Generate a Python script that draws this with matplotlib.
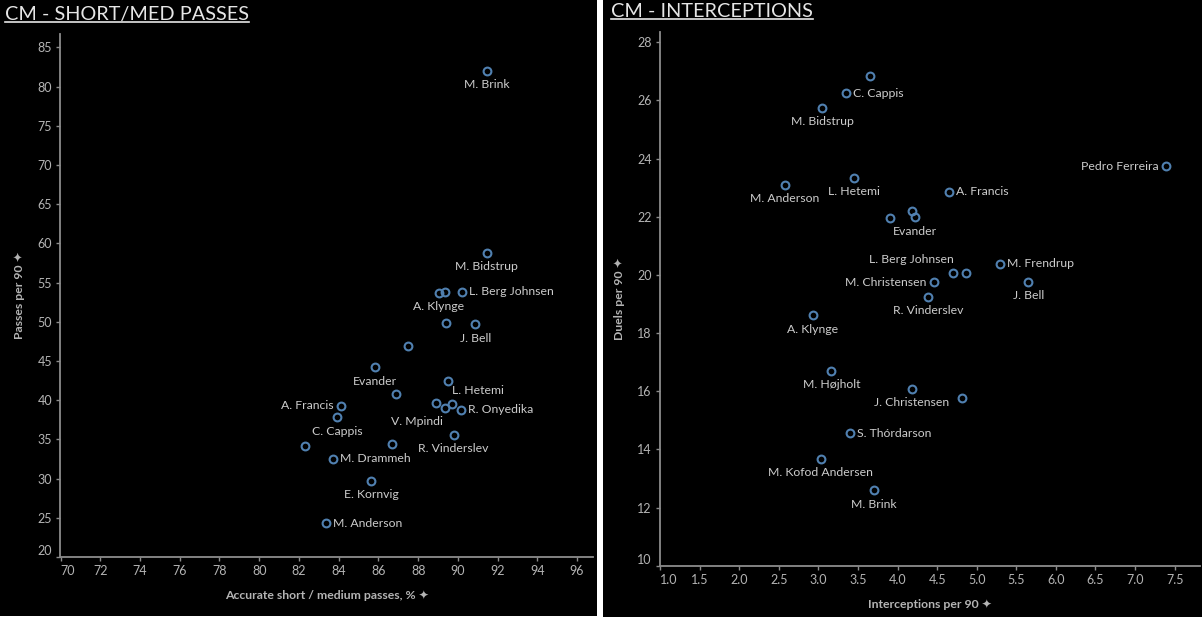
import matplotlib
matplotlib.use("Agg")
import matplotlib.pyplot as plt
from matplotlib.patches import Rectangle
from matplotlib.lines import Line2D

# ---- data: CM short/medium passes ----
pass_names = ["M. Brink", "M. Bidstrup", "A. Klynge", "", "L. Berg Johnsen", "", "J. Bell", "",
              "Evander", "L. Hetemi", "", "A. Francis", "C. Cappis", "V. Mpindi", "", "",
              "R. Onyedika", "R. Vinderslev", "", "", "M. Drammeh", "E. Kornvig", "M. Anderson"]
pass_acc = [91.44, 91.44, 89.04, 89.33, 90.23, 89.42, 90.87, 87.48,
            85.83, 89.5, 86.9, 84.1, 83.94, 88.92, 89.33, 89.7,
            90.17, 89.79, 82.3, 86.67, 83.7, 85.65, 83.38]
pass_p90 = [82.0, 58.8, 53.7, 53.8, 53.8, 49.8, 49.7, 46.95,
            44.2, 42.46, 40.8, 39.3, 37.8, 39.58, 39.0, 39.5,
            38.8, 35.6, 34.2, 34.36, 32.5, 29.75, 24.3]
pass_pos = ["b", "b", "b", "", "r", "", "b", "",
            "b", "br", "", "l", "b", "bl", "", "",
            "r", "b", "", "", "r", "b", "r"]
pass_xticks = [70, 72, 74, 76, 78, 80, 82, 84, 86, 88, 90, 92, 94, 96]
pass_yticks = [20, 25, 30, 35, 40, 45, 50, 55, 60, 65, 70, 75, 80, 85]

# ---- data: CM interceptions ----
int_names = ["", "C. Cappis", "M. Bidstrup", "Pedro Ferreira", "L. Hetemi", "M. Anderson",
             "A. Francis", "", "Evander", "", "M. Frendrup", "L. Berg Johnsen", "",
             "M. Christensen", "J. Bell", "R. Vinderslev", "A. Klynge", "M. Højholt",
             "J. Christensen", "", "S. Thórdarson", "M. Kofod Andersen", "M. Brink"]
int_p90 = [3.646, 3.345, 3.049, 7.39, 3.45, 2.573, 4.646, 4.18, 4.22, 3.91, 5.30, 4.70, 4.86,
           4.456, 5.65, 4.39, 2.927, 3.165, 4.18, 4.815, 3.40, 3.03, 3.70]
duels_p90 = [26.82, 26.24, 25.74, 23.74, 23.33, 23.09, 22.85, 22.2, 21.98, 21.97, 20.38, 20.05,
             20.05, 19.74, 19.76, 19.25, 18.61, 16.71, 16.09, 15.78, 14.56, 13.68, 12.6]
int_pos = ["", "r", "b", "l", "b", "b", "r", "", "b", "", "r", "al", "",
           "l", "b", "b", "b", "b", "b", "", "r", "b", "b"]
int_xticks = [1.0, 1.5, 2.0, 2.5, 3.0, 3.5, 4.0, 4.5, 5.0, 5.5, 6.0, 6.5, 7.0, 7.5]
int_yticks = [10, 12, 14, 16, 18, 20, 22, 24, 26, 28]

W, H = 1202, 618
BG = "black"
POINT = "#5080b0"
LABEL = "#cccccc"
TICK = "#b4b4b4"
AXIS = "#8c8c8c"
FONT = ["Lato", "DejaVu Sans"]
PIN = "\u2726"

plt.rcParams["font.family"] = FONT

# label placement: (dx px, dy px, ha, va)
PLACE = {
    "b": (0, -14, "center", "center"),
    "r": (7, 0, "left", "center"),
    "l": (-7, 0, "right", "center"),
    "br": (4, -10, "left", "center"),
    "bl": (-19, -18, "center", "center"),
    "al": (1, 14, "right", "center"),
}


def px_rect(x0, y0, x1, y1):
    """Pixel box (top-left origin) -> figure fraction rect."""
    return [x0 / W, 1 - y1 / H, (x1 - x0) / W, (y1 - y0) / H]


def draw_panel(ax, xs, ys, names, pos, xticks, yticks, xlim, ylim, xlabel, ylabel, xfmt):
    ax.set_facecolor(BG)
    ax.plot(xs, ys, linestyle="none", marker="o", markersize=5.6, mfc="none",
            mec=POINT, mew=1.5, zorder=3)
    for x, y, name, p in zip(xs, ys, names, pos):
        if not name:
            continue
        dx, dy, ha, va = PLACE[p]
        ax.annotate(name, (x, y), xytext=(dx, dy), textcoords="offset pixels",
                    ha=ha, va=va, fontsize=8.8, color=LABEL)

    ax.set_xlim(*xlim)
    ax.set_ylim(*ylim)
    for side in ("top", "right"):
        ax.spines[side].set_visible(False)
    for side in ("left", "bottom"):
        ax.spines[side].set_color(AXIS)
        ax.spines[side].set_linewidth(1.3)

    ax.set_xticks(xticks)
    ax.set_xticklabels([xfmt.format(t) for t in xticks])
    ax.set_yticks(yticks)
    ax.tick_params(axis="both", colors=AXIS, labelcolor=TICK, labelsize=9,
                   length=3, width=1, pad=3)
    ax.get_xticklabels()[0].set_ha("left")
    ax.get_yticklabels()[0].set_va("bottom")

    ax.set_xlabel(xlabel + " " + PIN, color=TICK, fontsize=8.8, fontweight="bold", labelpad=9)
    ax.set_ylabel(ylabel + " " + PIN, color=TICK, fontsize=8.8, fontweight="bold", labelpad=9)


fig = plt.figure(figsize=(W / 100, H / 100), dpi=100, facecolor="white")

# black panel backgrounds, behind the axes
fig.patches.append(Rectangle((0, 1 - 616 / H), 597 / W, 616 / H, transform=fig.transFigure,
                             facecolor=BG, edgecolor="none", zorder=-10))
fig.patches.append(Rectangle((603 / W, 1 - 617 / H), 599 / W, 617 / H, transform=fig.transFigure,
                             facecolor=BG, edgecolor="none", zorder=-10))

ax_pass = fig.add_axes(px_rect(60.5, 34, 593, 557))
draw_panel(ax_pass, pass_acc, pass_p90, pass_names, pass_pos, pass_xticks, pass_yticks,
           (70, 96.8), (20, 86.7), "Accurate short / medium passes, %", "Passes per 90", "{:d}")

ax_int = fig.add_axes(px_rect(660, 31.7, 1200, 565.7))
draw_panel(ax_int, int_p90, duels_p90, int_names, int_pos, int_xticks, int_yticks,
           (1.0, 7.82), (10, 28.36), "Interceptions per 90", "Duels per 90", "{:.1f}")

# panel titles, underlined
titles = [
    fig.text(5 / W, 1 - 20 / H, "CM - SHORT/MED PASSES", fontsize=14.3, color="#e6e6e6",
             ha="left", va="baseline", zorder=5),
    fig.text(611 / W, 1 - 17 / H, "CM - INTERCEPTIONS", fontsize=14.3, color="#e6e6e6",
             ha="left", va="baseline", zorder=5),
]
fig.canvas.draw()
renderer = fig.canvas.get_renderer()
for t in titles:
    bb = t.get_window_extent(renderer)
    y = bb.y0 + 1
    fig.add_artist(Line2D([bb.x0 / W, bb.x1 / W], [y / H, y / H], transform=fig.transFigure,
                          color="#e6e6e6", linewidth=1.2))

fig.savefig("out.png", dpi=100, facecolor="white")
